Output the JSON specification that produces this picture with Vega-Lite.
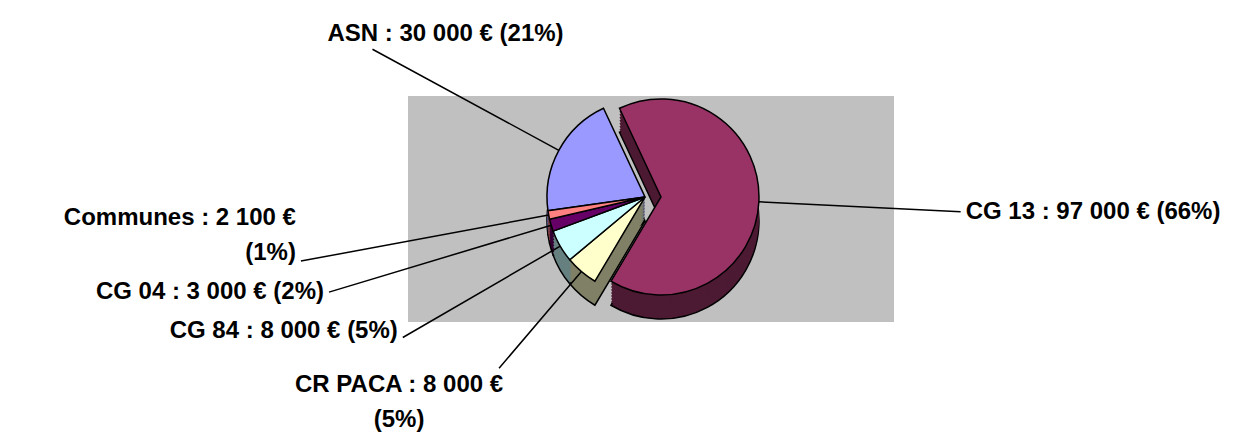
{
  "$schema": "https://vega.github.io/schema/vega-lite/v6.json",
  "width": 486,
  "height": 226,
  "autosize": {"type": "none"},
  "padding": {"left": 408, "top": 96, "right": 339, "bottom": 117},
  "background": "white",
  "view": {"fill": "#C0C0C0", "stroke": null},
  "config": {"text": {"font": "Liberation Sans", "fontWeight": "bold", "fontSize": 24, "lineHeight": 35, "color": "black"}},
  "data": {
    "values": [
      {"i": 1, "name": "ASN", "value": 30000, "label": "ASN : 30 000 € (21%)"},
      {"i": 2, "name": "CG 13", "value": 97000, "label": "CG 13 : 97 000 € (66%)"},
      {"i": 3, "name": "CR PACA", "value": 8000, "label": ["CR PACA : 8 000 €", "(5%)"]},
      {"i": 4, "name": "CG 84", "value": 8000, "label": "CG 84 : 8 000 € (5%)"},
      {"i": 5, "name": "CG 04", "value": 3000, "label": "CG 04 : 3 000 € (2%)"},
      {"i": 6, "name": "Communes", "value": 2100, "label": ["Communes : 2 100 €", "(1%)"]}
    ]
  },
  "encoding": {
    "theta": {"field": "value", "type": "quantitative", "stack": true, "scale": {"range": [-1.7104, 4.5728]}},
    "order": {"field": "i", "type": "quantitative"}
  },
  "layer": [
    {"mark": {"type": "arc", "radius": 98, "yOffset": 12, "xOffset": {"expr": "datum.name === 'CG 13' ? 10 : -6"}, "stroke": "black", "strokeWidth": 1.5},
     "encoding": {"color": {"field": "name", "type": "nominal", "legend": null, "scale": {"domain": ["ASN", "CG 13", "CR PACA", "CG 84", "CG 04", "Communes"], "range": ["#4D4D80", "#4D1A33", "#808066", "#668080", "#330033", "#804040"]}}}},
    {"mark": {"type": "arc", "radius": 98, "yOffset": 9, "xOffset": {"expr": "datum.name === 'CG 13' ? 10 : -6"}},
     "encoding": {"color": {"field": "name", "type": "nominal", "legend": null, "scale": {"domain": ["ASN", "CG 13", "CR PACA", "CG 84", "CG 04", "Communes"], "range": ["#4D4D80", "#4D1A33", "#808066", "#668080", "#330033", "#804040"]}}}},
    {"mark": {"type": "arc", "radius": 98, "yOffset": 6, "xOffset": {"expr": "datum.name === 'CG 13' ? 10 : -6"}},
     "encoding": {"color": {"field": "name", "type": "nominal", "legend": null, "scale": {"domain": ["ASN", "CG 13", "CR PACA", "CG 84", "CG 04", "Communes"], "range": ["#4D4D80", "#4D1A33", "#808066", "#668080", "#330033", "#804040"]}}}},
    {"mark": {"type": "arc", "radius": 98, "yOffset": 3, "xOffset": {"expr": "datum.name === 'CG 13' ? 10 : -6"}},
     "encoding": {"color": {"field": "name", "type": "nominal", "legend": null, "scale": {"domain": ["ASN", "CG 13", "CR PACA", "CG 84", "CG 04", "Communes"], "range": ["#4D4D80", "#4D1A33", "#808066", "#668080", "#330033", "#804040"]}}}},
    {"mark": {"type": "arc", "radius": 98, "yOffset": 0, "xOffset": {"expr": "datum.name === 'CG 13' ? 10 : -6"}},
     "encoding": {"color": {"field": "name", "type": "nominal", "legend": null, "scale": {"domain": ["ASN", "CG 13", "CR PACA", "CG 84", "CG 04", "Communes"], "range": ["#4D4D80", "#4D1A33", "#808066", "#668080", "#330033", "#804040"]}}}},
    {"mark": {"type": "arc", "radius": 98, "yOffset": -3, "xOffset": {"expr": "datum.name === 'CG 13' ? 10 : -6"}},
     "encoding": {"color": {"field": "name", "type": "nominal", "legend": null, "scale": {"domain": ["ASN", "CG 13", "CR PACA", "CG 84", "CG 04", "Communes"], "range": ["#4D4D80", "#4D1A33", "#808066", "#668080", "#330033", "#804040"]}}}},
    {"mark": {"type": "arc", "radius": 98, "yOffset": -6, "xOffset": {"expr": "datum.name === 'CG 13' ? 10 : -6"}},
     "encoding": {"color": {"field": "name", "type": "nominal", "legend": null, "scale": {"domain": ["ASN", "CG 13", "CR PACA", "CG 84", "CG 04", "Communes"], "range": ["#4D4D80", "#4D1A33", "#808066", "#668080", "#330033", "#804040"]}}}},
    {"mark": {"type": "arc", "radius": 98, "yOffset": -9, "xOffset": {"expr": "datum.name === 'CG 13' ? 10 : -6"}},
     "encoding": {"color": {"field": "name", "type": "nominal", "legend": null, "scale": {"domain": ["ASN", "CG 13", "CR PACA", "CG 84", "CG 04", "Communes"], "range": ["#4D4D80", "#4D1A33", "#808066", "#668080", "#330033", "#804040"]}}}},
    {"mark": {"type": "arc", "radius": 98, "yOffset": -12, "xOffset": {"expr": "datum.name === 'CG 13' ? 10 : -6"}, "stroke": "black", "strokeWidth": 1.5},
     "encoding": {"color": {"field": "name", "type": "nominal", "legend": null, "scale": {"domain": ["ASN", "CG 13", "CR PACA", "CG 84", "CG 04", "Communes"], "range": ["#9999FF", "#993366", "#FFFFCC", "#CCFFFF", "#660066", "#FF8080"]}}}},

    {"mark": {"type": "arc", "radius": 300, "radius2": 98, "padAngle": 3.14, "fillOpacity": 0, "stroke": "black", "strokeWidth": 1.5, "xOffset": 10, "yOffset": -12},
     "encoding": {
       "theta": {"field": "value", "type": "quantitative", "stack": true, "scale": {"range": [-0.7654, 3.7346]}},
       "strokeOpacity": {"condition": {"test": "datum.name === 'CG 13'", "value": 1}, "value": 0}}},
    {"mark": {"type": "arc", "radius": 310, "radius2": 98, "padAngle": 3.14, "fillOpacity": 0, "stroke": "black", "strokeWidth": 1.5, "xOffset": -6, "yOffset": -12},
     "encoding": {"strokeOpacity": {"condition": {"test": "datum.name === 'ASN'", "value": 1}, "value": 0}}},
    {"mark": {"type": "arc", "radius": 225, "radius2": 98, "padAngle": 3.14, "fillOpacity": 0, "stroke": "black", "strokeWidth": 1.5, "xOffset": -6, "yOffset": -12},
     "encoding": {"strokeOpacity": {"condition": {"test": "datum.name === 'CR PACA'", "value": 1}, "value": 0}}},
    {"mark": {"type": "arc", "radius": 280, "radius2": 98, "padAngle": 3.14, "fillOpacity": 0, "stroke": "black", "strokeWidth": 1.5, "xOffset": -6, "yOffset": -12},
     "encoding": {"strokeOpacity": {"condition": {"test": "datum.name === 'CG 84'", "value": 1}, "value": 0}}},
    {"mark": {"type": "arc", "radius": 330, "radius2": 98, "padAngle": 3.14, "fillOpacity": 0, "stroke": "black", "strokeWidth": 1.5, "xOffset": -6, "yOffset": -12},
     "encoding": {"strokeOpacity": {"condition": {"test": "datum.name === 'CG 04'", "value": 1}, "value": 0}}},
    {"mark": {"type": "arc", "radius": 350, "radius2": 98, "padAngle": 3.14, "fillOpacity": 0, "stroke": "black", "strokeWidth": 1.5, "xOffset": -6, "yOffset": -12},
     "encoding": {"strokeOpacity": {"condition": {"test": "datum.name === 'Communes'", "value": 1}, "value": 0}}},

    {"mark": {"type": "text", "radius": 300, "align": "left", "baseline": "middle", "dx": 5, "xOffset": 10, "yOffset": -12},
     "encoding": {"text": {"field": "label"}, "opacity": {"condition": {"test": "datum.name === 'CG 13'", "value": 1}, "value": 0}}},
    {"mark": {"type": "text", "radius": 310, "align": "left", "baseline": "bottom", "dx": -45, "dy": -3, "xOffset": -6, "yOffset": -12},
     "encoding": {"text": {"field": "label"}, "opacity": {"condition": {"test": "datum.name === 'ASN'", "value": 1}, "value": 0}}},
    {"mark": {"type": "text", "radius": 225, "align": "center", "baseline": "top", "dx": -100, "dy": 5, "xOffset": -6, "yOffset": -12},
     "encoding": {"text": {"field": "label"}, "opacity": {"condition": {"test": "datum.name === 'CR PACA'", "value": 1}, "value": 0}}},
    {"mark": {"type": "text", "radius": 280, "align": "right", "baseline": "middle", "dx": -5, "dy": -6, "xOffset": -6, "yOffset": -12},
     "encoding": {"text": {"field": "label"}, "opacity": {"condition": {"test": "datum.name === 'CG 84'", "value": 1}, "value": 0}}},
    {"mark": {"type": "text", "radius": 330, "align": "right", "baseline": "middle", "dx": -5, "xOffset": -6, "yOffset": -12},
     "encoding": {"text": {"field": "label"}, "opacity": {"condition": {"test": "datum.name === 'CG 04'", "value": 1}, "value": 0}}},
    {"mark": {"type": "text", "radius": 350, "align": "right", "baseline": "bottom", "dx": -5, "dy": -31, "xOffset": -6, "yOffset": -12},
     "encoding": {"text": {"field": "label"}, "opacity": {"condition": {"test": "datum.name === 'Communes'", "value": 1}, "value": 0}}}
  ],
  "resolve": {"scale": {"color": "independent", "theta": "independent"}}
}
